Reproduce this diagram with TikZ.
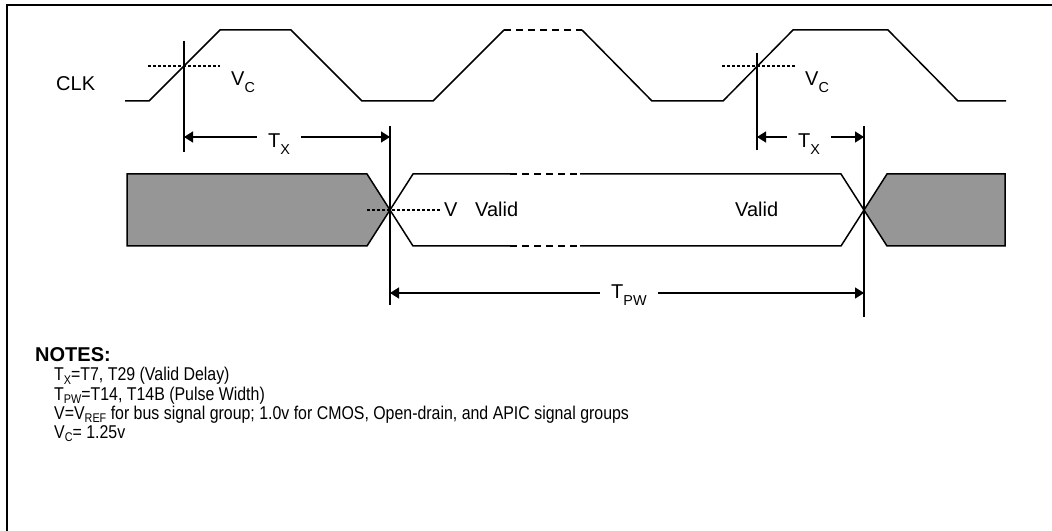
\documentclass[tikz,border=0pt]{standalone}
\usepackage{fontspec}
\setmainfont{Liberation Sans}
\newfontfamily\notefont[FakeStretch=0.86]{Liberation Sans}
\usetikzlibrary{arrows.meta}
\definecolor{busgray}{RGB}{150,150,150}
\newcommand\lowsub[1]{\raisebox{-0.34em}{\scalebox{0.72}{#1}}}
\newcommand\notesub[1]{\raisebox{-0.2em}{\scalebox{0.68}{#1}}}
\begin{document}
\begin{tikzpicture}[x=1bp,y=-1bp,
  wave/.style={line width=1.5bp},
  fade/.style={line width=1.5bp, dash pattern=on 7bp off 5bp},
  thr/.style={line width=1.2bp, dash pattern=on 3bp off 2bp},
  marker/.style={line width=1.3bp},
  dim/.style={line width=1.3bp, -{Triangle[length=9bp,width=11bp]}},
  lbl/.style={font=\fontsize{20bp}{22bp}\selectfont, inner sep=0pt},
  dlbl/.style={font=\fontsize{20bp}{22bp}\selectfont, inner xsep=11bp, inner ysep=0pt, anchor=base west},
  note/.style={font=\notefont\fontsize{18.5bp}{20bp}\selectfont, inner sep=0pt, anchor=base west},
  bus/.style={line width=1.5bp, fill=busgray, line join=miter},
  white/.style={line width=1.5bp},
]
\useasboundingbox (0,0) rectangle (1052,531);
\draw[line width=2bp] (1052,5.5) -- (7,5.5) -- (7,531);

% CLK waveform
\draw[wave] (125,101) -- (149,101) -- (220,30) -- (291,30) -- (362,101) -- (433,101) -- (504,30);
\draw[fade] (504,30) -- (582,30);
\draw[wave] (582,30) -- (652,101) -- (723,101) -- (793,30) -- (888,30) -- (958,101) -- (1006,101);
\draw[thr] (148,66) -- (220,66);
\draw[thr] (722,66) -- (795,66);

% bus
\draw[bus] (127,174) -- (367,174) -- (390,210) -- (367,246) -- (127,246) -- cycle;
\draw[bus] (864,210) -- (887,174) -- (1005,174) -- (1005,246) -- (887,246) -- cycle;
\draw[white] (510,174) -- (413,174) -- (390,210) -- (413,246) -- (510,246);
\draw[white] (580,174) -- (841,174) -- (864,210) -- (841,246) -- (580,246);
\draw[fade] (510,174) -- (580,174);
\draw[fade] (510,246) -- (580,246);
\draw[thr] (367,210) -- (440,210);

% markers
\coordinate (m1t) at (184,41);  \coordinate (m1b) at (184,152);
\coordinate (m2t) at (390,126); \coordinate (m2b) at (390,305);
\coordinate (m3t) at (757,53);  \coordinate (m3b) at (757,150);
\coordinate (m4t) at (864,126); \coordinate (m4b) at (864,317);
\draw[marker] (m1t) -- (m1b);
\draw[marker] (m2t) -- (m2b);
\draw[marker] (m3t) -- (m3b);
\draw[marker] (m4t) -- (m4b);
\coordinate (a1) at (184,137); \coordinate (a2) at (390,137);
\coordinate (a3) at (757,137); \coordinate (a4) at (864,137);
\coordinate (p1) at (390,293); \coordinate (p2) at (864,293);

% labels
\node[lbl, anchor=base west] (clk) at (56,91) {CLK};
\node[lbl, anchor=base west] (vc1) at (231,86) {V\lowsub{C}};
\node[lbl, anchor=base west] (vc2) at (805,86) {V\lowsub{C}};
\node[lbl, anchor=base west] (vlab) at (444,217) {V};
\node[lbl, anchor=base west] (valid1) at (475,217) {Valid};
\node[lbl, anchor=base west] (valid2) at (735,217) {Valid};

\node[dlbl] (tx1) at (257,148) {T\lowsub{X}};
\node[dlbl] (tx2) at (787,148) {T\lowsub{X}};
\node[dlbl] (tpw) at (600,299) {T\lowsub{PW}};
\draw[dim] (tx1.west |- a1) -- (a1);
\draw[dim] (tx1.east |- a2) -- (a2);
\draw[dim] (tx2.west |- a3) -- (a3);
\draw[dim] (tx2.east |- a4) -- (a4);
\draw[dim] (tpw.west |- p1) -- (p1);
\draw[dim] (tpw.east |- p2) -- (p2);

% notes
\node[note, font=\bfseries\fontsize{20bp}{20bp}\selectfont] (notes) at (35,362) {NOTES:};
\node[note] (n1) at (54,381) {T\notesub{X}=T7, T29 (Valid Delay)};
\node[note] (n2) at (54,400) {T\notesub{PW}=T14, T14B (Pulse Width)};
\node[note] (n3) at (54,419) {V=V\notesub{REF} for bus signal group; 1.0v for CMOS, Open-drain, and APIC signal groups};
\node[note] (n4) at (54,438) {V\notesub{C}= 1.25v};
\end{tikzpicture}
\end{document}
